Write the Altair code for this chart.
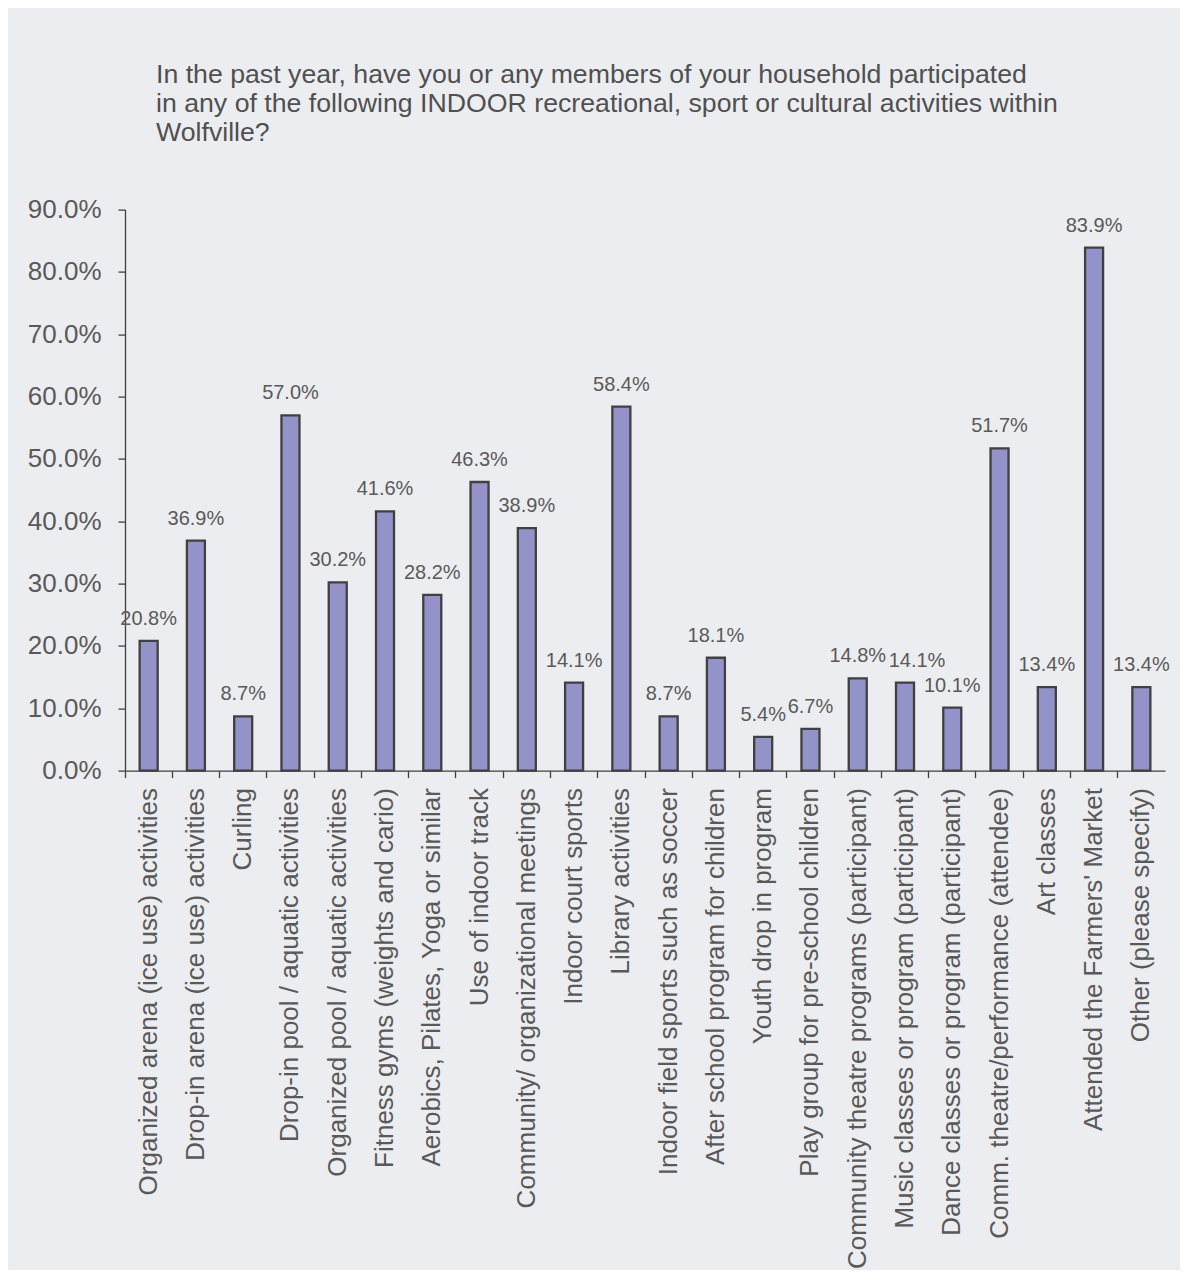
import altair as alt
import pandas as pd

categories = [
    "Organized arena (ice use) activities",
    "Drop-in arena (ice use) activities",
    "Curling",
    "Drop-in pool / aquatic activities",
    "Organized pool / aquatic activities",
    "Fitness gyms (weights and cario)",
    "Aerobics, Pilates, Yoga or similar",
    "Use of indoor track",
    "Community/ organizational meetings",
    "Indoor court sports",
    "Library activities",
    "Indoor field sports such as soccer",
    "After school program for children",
    "Youth drop in program",
    "Play group for pre-school children",
    "Community theatre programs (participant)",
    "Music classes or program (participant)",
    "Dance classes or program (participant)",
    "Comm. theatre/performance (attendee)",
    "Art classes",
    "Attended the Farmers' Market",
    "Other (please specify)",
]
values = [20.8, 36.9, 8.7, 57.0, 30.2, 41.6, 28.2, 46.3, 38.9, 14.1, 58.4,
          8.7, 18.1, 5.4, 6.7, 14.8, 14.1, 10.1, 51.7, 13.4, 83.9, 13.4]
tick_values = [0.0, 0.1, 0.2, 0.3, 0.4, 0.5, 0.6, 0.7, 0.8, 0.9]
title_lines = [
    "In the past year, have you or any members of your household participated",
    "in any of the following INDOOR recreational, sport or cultural activities within",
    "Wolfville?",
]

df = pd.DataFrame({
    "activity": categories,
    "share": [v / 100 for v in values],
    "order": list(range(len(categories))),
})

FONT = "Liberation Sans"
TXT = "#595959"
AX = "#404040"

x = alt.X(
    "activity:N",
    sort=categories,
    scale=alt.Scale(paddingInner=0, paddingOuter=0),
    axis=alt.Axis(
        title=None, labelAngle=-90, labelAlign="right", labelBaseline="middle",
        labelFontSize=26, labelPadding=10, tickSize=7, bandPosition=0,
        domainColor=AX, tickColor=AX, labelColor=TXT, labelFont=FONT,
        labelLimit=700, domainWidth=1.3, tickWidth=1.3,
    ),
)
y = alt.Y(
    "share:Q",
    scale=alt.Scale(domain=[0, 0.9], nice=False),
    axis=alt.Axis(
        title=None, format=".1%", values=tick_values, grid=False, tickSize=7,
        labelFontSize=26, labelPadding=17, domainColor=AX, tickColor=AX,
        labelColor=TXT, labelFont=FONT, domainWidth=1.3, tickWidth=1.3,
    ),
)

base = alt.Chart(df)

bars = base.mark_bar(
    size=18, color="#9393C9", stroke="#404040", strokeWidth=2.3
).encode(x=x, y=y)

# labels crowded by an almost equal neighbour on the left are nudged right
labelled = base.transform_window(
    prev="lag(share)", sort=[alt.SortField("order")]
).transform_calculate(
    crowded="isValid(datum.prev) && abs(datum.share - datum.prev) < 0.01"
)

text_style = dict(fontSize=20, color=TXT, font=FONT, baseline="alphabetic", dy=-16)

labels = labelled.transform_filter("!datum.crowded").mark_text(**text_style).encode(
    x=x, y=y, text=alt.Text("share:Q", format=".1%")
)
labels_shifted = labelled.transform_filter("datum.crowded").mark_text(
    dx=12, **text_style
).encode(x=x, y=y, text=alt.Text("share:Q", format=".1%"))

chart = (
    alt.layer(bars, labels, labels_shifted)
    .properties(
        width=1040,
        height=561,
        title=alt.TitleParams(
            text=title_lines, anchor="start", frame="group", fontSize=26.7,
            font=FONT, color="#505050", fontWeight="normal", lineHeight=28.7,
            dx=31, offset=50,
        ),
        padding={"left": 117, "top": 201.6, "right": 15, "bottom": 499},
        autosize=alt.AutoSizeParams(type="none"),
        background="#ECEDF0",
    )
    .configure_view(stroke=None)
)

chart.save("out.html", embed_options={"renderer": "svg", "actions": False})
